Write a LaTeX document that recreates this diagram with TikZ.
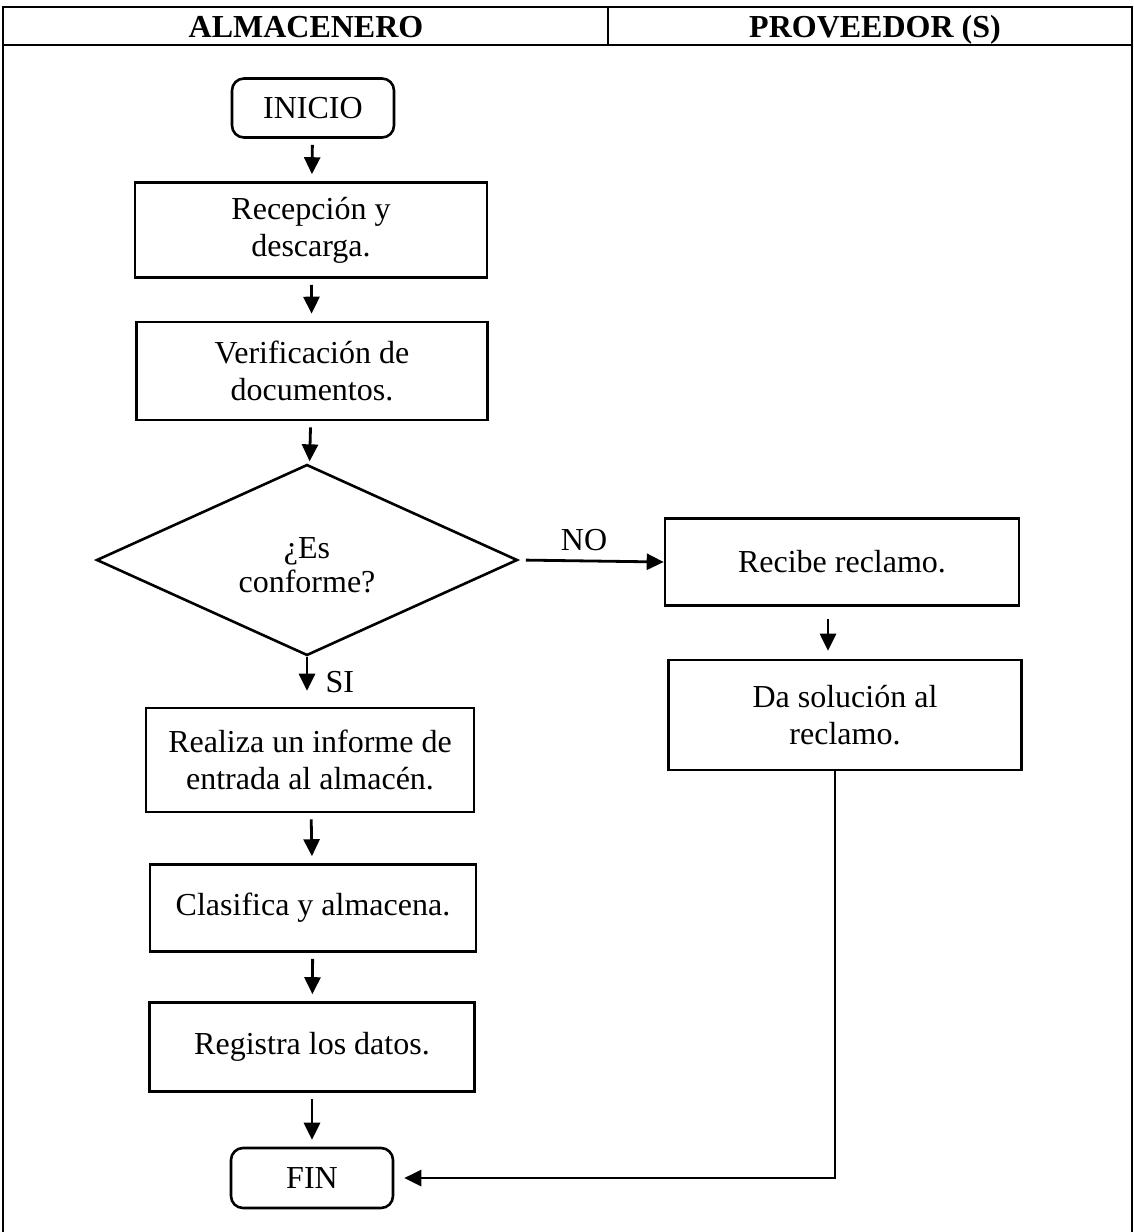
\documentclass[tikz,border=0pt]{standalone}
\usepackage{fontspec}
\setmainfont{Liberation Serif}
\usetikzlibrary{arrows.meta,shapes.geometric,calc}

\tikzset{
  every node/.style={font=\fontsize{32}{37}\selectfont, align=center},
  frame/.style={line width=2.8pt},
  proc/.style={draw, line width=2.6pt, rectangle, inner sep=0pt},
  term/.style={draw, line width=2.6pt, rectangle, rounded corners=12pt, inner sep=0pt},
  decis/.style={draw, line width=2.6pt, diamond, inner sep=0pt},
  flow/.style={line width=2.8pt, -{Triangle[length=17pt,width=16pt]},
               shorten <=6pt, shorten >=7pt},
  head/.style={font=\fontsize{32}{36}\selectfont\bfseries, anchor=base}
}

\begin{document}
\begin{tikzpicture}[x=1pt, y=-1pt]
  \useasboundingbox (0,0) rectangle (1134,1232);

  % swimlane frame and headers
  \draw[frame] (3,1232) -- (3,7) -- (1132,7) -- (1132,1232);
  \draw[frame] (3,45) -- (1132,45);
  \draw[frame] (608,7) -- (608,45);
  \node[head] (hAlm) at (306,37) {ALMACENERO};
  \node[head] (hProv) at (875,37) {PROVEEDOR (S)};

  % ALMACENERO lane
  \node[term, minimum width=162pt, minimum height=59pt] (ini) at (313,108) {INICIO};
  \node[proc, minimum width=352pt, minimum height=95pt] (rec) at (311,230) {Recepción y\\descarga.};
  \node[proc, minimum width=351pt, minimum height=98pt] (ver) at (312,371) {Verificación de\\documentos.};
  \node[decis, minimum width=421pt, minimum height=191pt, shape aspect=2.2] (dec) at (307,560) {};
  \node (decT) at ($(dec.center)+(0,5)$) {¿Es\\[-3pt]conforme?};
  \node[proc, minimum width=328pt, minimum height=104pt] (inf) at (310,760) {Realiza un informe de\\entrada al almacén.};
  \node[proc, minimum width=326pt, minimum height=87pt] (cla) at (313,908) {Clasifica y almacena.};
  \node[proc, minimum width=325pt, minimum height=89pt] (reg) at (312,1047) {Registra los datos.};
  \node[term, minimum width=162pt, minimum height=60pt] (fin) at (312,1178) {FIN};

  % PROVEEDOR lane
  \node[proc, minimum width=354pt, minimum height=87pt] (recl) at (842,562) {Recibe reclamo.};
  \node[proc, minimum width=353pt, minimum height=110pt] (sol) at (845,715) {Da solución al\\reclamo.};

  % connectors
  \draw[flow] (ini) -- (rec);
  \draw[flow] (rec) -- (ver);
  \draw[flow, shorten >=3pt] (ver) -- (dec);
  \draw[flow, shorten <=0pt, shorten >=16pt] (dec.south) -- (dec.south |- inf.north);
  \node[anchor=west] (si) at (322,682) {SI};
  \draw[flow, shorten <=7pt, shorten >=0pt] (dec.east) -- (recl.west);
  \node (no) at (584,540) {NO};
  \draw[flow, shorten <=12pt, shorten >=8pt] (recl.south -| 828,0) -- (sol.north -| 828,0);
  \draw[flow] (inf) -- (cla);
  \draw[flow] (cla) -- (reg);
  \draw[flow] (reg) -- (fin);
  \coordinate (solOut) at ($(sol.south)+(-10,0)$);
  \draw[flow, shorten <=0pt, shorten >=10pt] (solOut) -- (solOut |- fin.east) -- (fin.east);
\end{tikzpicture}
\end{document}
